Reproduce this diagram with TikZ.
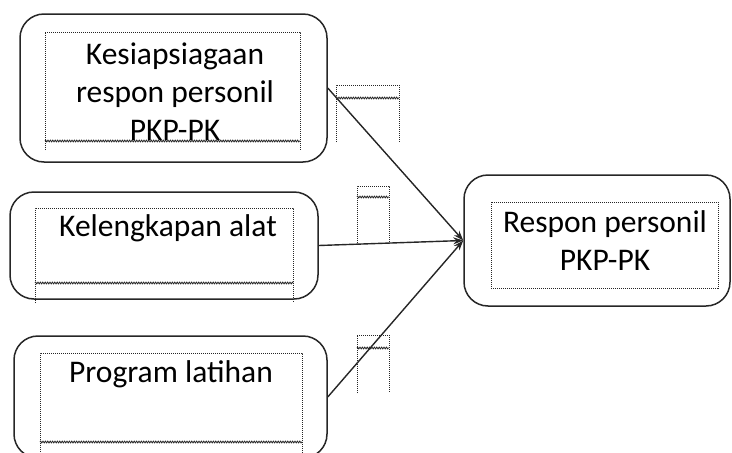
\documentclass[tikz,border=0pt]{standalone}
\usepackage{fontspec}
\setmainfont{Carlito}
\usetikzlibrary{arrows.meta, decorations.pathmorphing}

\begin{document}
\begin{tikzpicture}[x=1pt, y=-1pt,
  kotak/.style={draw=black!85, line width=1.5pt, rounded corners=24pt, inner sep=0pt},
  teks/.style={font=\fontsize{31.5}{38}\selectfont, align=center, inner sep=0pt, anchor=base},
  bingkai/.style={black!85, densely dotted, line width=1pt},
  gelombang/.style={black!85, line width=0.8pt, decorate, decoration={zigzag, amplitude=0.9pt, segment length=2.4pt}},
  panah/.style={black!85, line width=1.4pt, -{Stealth[length=10pt, width=7pt]}}]
        \useasboundingbox (0,0) rectangle (732,453);
        \clip (0,0) rectangle (732,453);

        % Kotak variabel bebas
        \node[kotak, minimum width=307pt, minimum height=148pt] (k1) at (173.5,88) {};
        \node[kotak, minimum width=308pt, minimum height=107pt] (k2) at (164,245.5) {};
        \node[kotak, minimum width=313pt, minimum height=122pt] (k3) at (170.5,397) {};

        % Kotak variabel terikat
        \node[kotak, minimum width=266pt, minimum height=131pt] (k4) at (597,240.5) {};

        % Bingkai teks (garis titik-titik)
        \draw[bingkai] (45,150) -- (45,32) -- (300,32) -- (300,150);
        \draw[gelombang] (45,141) -- (300,141);
        \draw[bingkai] (35,303) -- (35,208) -- (293,208) -- (293,303);
        \draw[gelombang] (35,283) -- (293,283);
        \draw[bingkai] (40,460) -- (40,353) -- (302,353) -- (302,460);
        \draw[gelombang] (40,442) -- (302,442);
        \draw[bingkai] (491,202) rectangle (718,288);

        % Isi teks (anchor base = baris terakhir)
        \node[teks] (t1) at (175,140) {Kesiapsiagaan\\respon personil\\PKP-PK};
        \node[teks] (t2) at (168,236) {Kelengkapan alat};
        \node[teks] (t3) at (171,382) {Program latihan};
        \node[teks] (t4) at (605,270) {Respon personil\\PKP-PK};

        % Bingkai label panah yang kosong
        \draw[bingkai] (336,142) -- (336,85) -- (399,85) -- (399,142);
        \draw[gelombang] (336,98) -- (399,98);
        \draw[bingkai] (357,243) -- (357,186) -- (389,186) -- (389,243);
        \draw[gelombang] (357,197) -- (389,197);
        \draw[bingkai] (357,393) -- (357,335) -- (389,335) -- (389,393);
        \draw[gelombang] (357,348) -- (389,348);

        % Panah hubungan
        \draw[panah] (k1.east) -- (k4.west);
        \draw[panah] (k2.east) -- (k4.west);
        \draw[panah] (k3.east) -- (k4.west);
\end{tikzpicture}
\end{document}
